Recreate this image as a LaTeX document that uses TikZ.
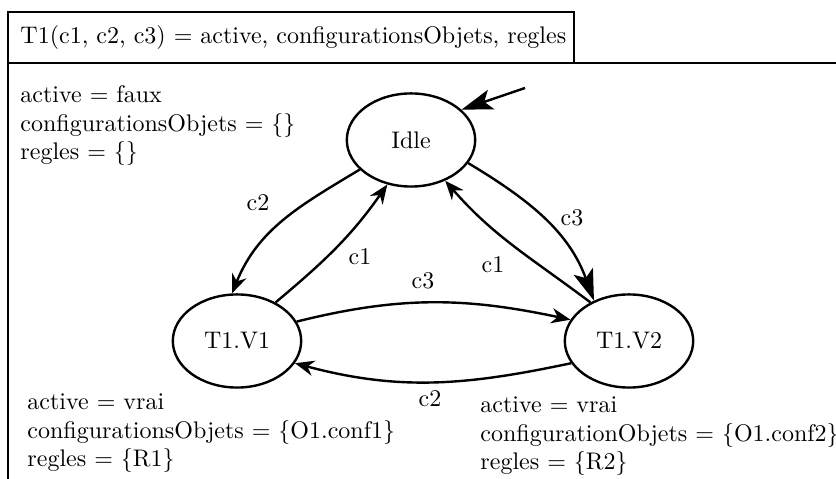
\documentclass[tikz,border=0pt]{standalone}
\usetikzlibrary{shapes.geometric,arrows.meta}
\begin{document}
\begin{tikzpicture}[x=0.4167pt,y=-0.4167pt,
  state/.style={ellipse,draw,line width=1pt,minimum width=53.5pt,minimum height=38.8pt,inner sep=0pt},
  arr/.style={line width=1pt,-{Stealth[length=8pt,width=6.4pt,inset=2.6pt]}},
  bigarr/.style={line width=1pt,-{Stealth[length=13pt,width=8.5pt,inset=3pt]}},
  frame/.style={line width=0.8pt},
  info/.style={anchor=base west,align=left,inner sep=0pt},
  lab/.style={inner sep=0pt}]
\useasboundingbox (0,0) rectangle (836,479);
% frames
\draw[frame] (8,12) rectangle (574,63);
\draw[frame] (8,479) -- (8,63) -- (836,63);
\node[anchor=west,inner sep=0pt] (title) at (20,37.5) {T1(c1, c2, c3) $=$ active, configurationsObjets, regles};
% info blocks (base anchor = baseline of last line)
\node[info] (i0) at (20,160) {active $=$ faux\\configurationsObjets $=$ \{\}\\regles $=$ \{\}};
\node[info] (i1) at (27,467) {active $=$ vrai\\configurationsObjets $=$ \{O1.conf1\}\\regles $=$ \{R1\}};
\node[info] (i2) at (480,470) {active $=$ vrai\\configurationObjets $=$ \{O1.conf2\}\\regles $=$ \{R2\}};
% states
\node[state] (idle) at (411,140) {Idle};
\node[state] (v1) at (237,341) {T1.V1};
\node[state] (v2) at (629,341) {T1.V2};
\coordinate (init) at (525,88);
% transitions
\draw[bigarr] (init) -- (idle.31);
\draw[arr] (idle.210) to[out=211,in=68] (v1.96);
\draw[arr] (v1.45) to[out=40,in=235] (idle.242);
\draw[arr] (v1.18) to[out=14,in=168] (v2.160);
\draw[arr] (v2.201) to[out=192,in=345] (v1.339);
\draw[bigarr] (idle.338) to[out=-31,in=110] (v2.131);
\draw[arr] (v2.135) to[out=143,in=311] (idle.310);
% labels
\node[lab] (l1) at (258,203) {c2};
\node[lab] (l2) at (360,257) {c1};
\node[lab] (l3) at (423,281) {c3};
\node[lab] (l4) at (430,399) {c2};
\node[lab] (l5) at (572,218) {c3};
\node[lab] (l6) at (493,265) {c1};
\end{tikzpicture}
\end{document}
